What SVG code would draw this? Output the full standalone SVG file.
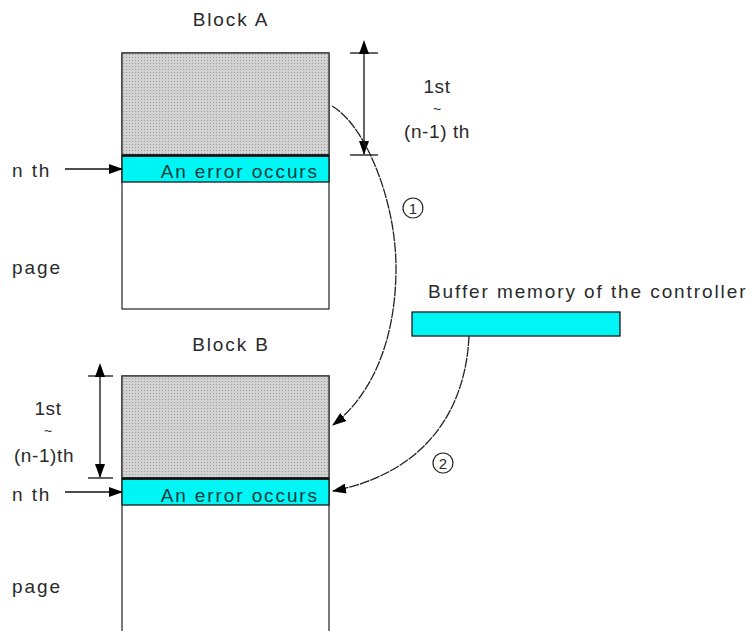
<svg xmlns="http://www.w3.org/2000/svg" width="752" height="631" viewBox="0 0 752 631">
<style>
text{font-family:"Liberation Sans",Arial,sans-serif;font-size:19px;letter-spacing:1.9px;fill:#2a2a2a}
.err{fill:#0b3b3b;text-anchor:end}
.box{fill:#fff;stroke:#333;stroke-width:1.3}
.gray{fill:url(#dots);stroke:#333;stroke-width:1.3}
.cyan{fill:#00f5f5;stroke:#1a1a1a;stroke-width:1.3}
.ln{fill:none;stroke:#111;stroke-width:1.3}
.curve{fill:none;stroke:#222;stroke-width:1.3;stroke-dasharray:10 1}
.circ{fill:none;stroke:#222;stroke-width:1.2}
.num{font-size:15px;letter-spacing:0}
.dim{letter-spacing:0.6px}
.tl{font-size:14px;letter-spacing:0}
</style>
<defs>
<pattern id="dots" width="3" height="3" patternUnits="userSpaceOnUse">
<rect width="3" height="3" fill="#d2d2d2"/>
<rect width="1" height="1" fill="#9a9a9a"/>
</pattern>
<marker id="ah" markerWidth="14" markerHeight="10" refX="13" refY="5" orient="auto" markerUnits="userSpaceOnUse">
<path d="M0,0 L14,5 L0,10 Z" fill="#000"/>
</marker>
<marker id="as" markerWidth="14" markerHeight="10" refX="0" refY="5" orient="auto-start-reverse" markerUnits="userSpaceOnUse">
<path d="M0,0 L14,5 L0,10 Z" fill="#000"/>
</marker>
</defs>

<g id="blockA">
<text x="231" y="26" text-anchor="middle">Block A</text>
<rect class="box" x="122" y="53" width="207" height="256"/>
<rect class="gray" x="122" y="53" width="207" height="102"/>
<rect class="cyan" x="122" y="156" width="207" height="26"/>
<line x1="122" y1="155.5" x2="329" y2="155.5" stroke="#111" stroke-width="2.5"/>
<text class="err" x="319" y="178">An error occurs</text>
</g>

<g id="blockB">
<text x="231" y="351" text-anchor="middle">Block B</text>
<rect class="box" x="122" y="376" width="207" height="270"/>
<rect class="gray" x="122" y="376" width="207" height="102"/>
<rect class="cyan" x="122" y="479" width="207" height="26"/>
<line x1="122" y1="478.5" x2="329" y2="478.5" stroke="#111" stroke-width="2.5"/>
<text class="err" x="319" y="502">An error occurs</text>
</g>

<g id="buffer">
<text x="428" y="298">Buffer memory of the controller</text>
<rect class="cyan" x="412" y="312" width="208" height="24"/>
</g>

<g id="labels">
<text x="12" y="177">n th</text>
<text x="12" y="274">page</text>
<text x="12" y="501">n th</text>
<text x="12" y="593">page</text>
<text class="dim" x="437" y="93" text-anchor="middle">1st</text>
<text class="tl" x="437" y="114" text-anchor="middle">~</text>
<text class="dim" x="437" y="138" text-anchor="middle">(n-1) th</text>
<text class="dim" x="48" y="415" text-anchor="middle">1st</text>
<text class="tl" x="48" y="436" text-anchor="middle">~</text>
<text class="dim" x="44" y="462" text-anchor="middle">(n-1)th</text>
<circle class="circ" cx="413" cy="208" r="10"/>
<text class="num" x="413" y="214" text-anchor="middle">1</text>
<circle class="circ" cx="443" cy="463" r="10"/>
<text class="num" x="443" y="469" text-anchor="middle">2</text>
</g>

<g id="connectors">
<line class="ln" x1="350" y1="53" x2="378" y2="53"/>
<line class="ln" x1="350" y1="155" x2="378" y2="155"/>
<line class="ln" x1="364" y1="54" x2="364" y2="154" marker-start="url(#as)" marker-end="url(#ah)"/>
<line class="ln" x1="88" y1="376" x2="113" y2="376"/>
<line class="ln" x1="88" y1="478" x2="113" y2="478"/>
<line class="ln" x1="100" y1="377" x2="100" y2="477" marker-start="url(#as)" marker-end="url(#ah)"/>
<line class="ln" x1="65" y1="169" x2="122" y2="169" marker-end="url(#ah)"/>
<line class="ln" x1="65" y1="492" x2="122" y2="492" marker-end="url(#ah)"/>
<path class="curve" d="M332,106 C365,125 396,200 396,268 C396,340 372,395 333,425" marker-end="url(#ah)"/>
<path class="curve" d="M469,336 C466,405 430,472 333,491" marker-end="url(#ah)"/>
</g>
</svg>
